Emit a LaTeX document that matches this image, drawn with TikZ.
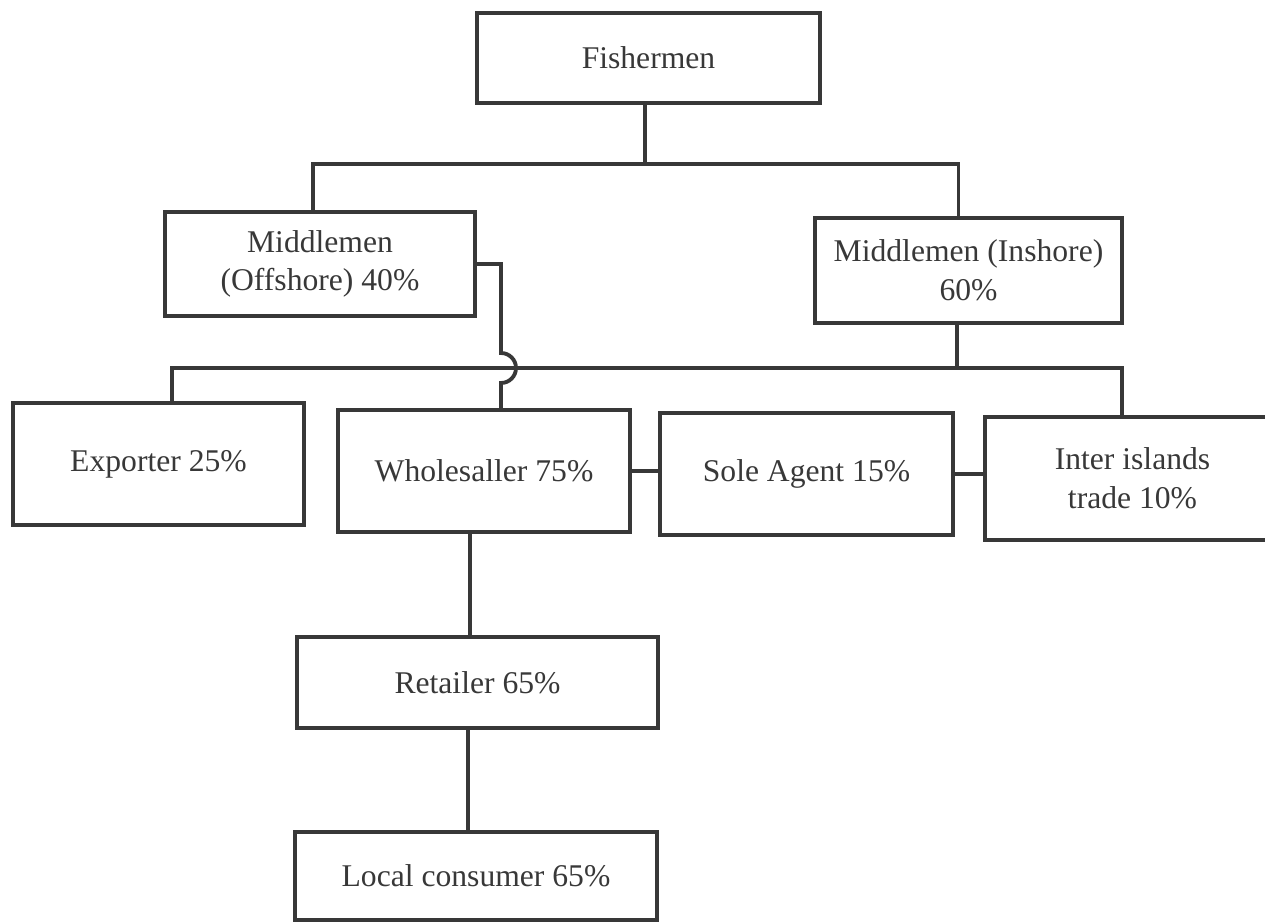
\documentclass[tikz,border=0pt]{standalone}
\usepackage{fontspec}
\setmainfont{Liberation Serif}
\usepackage{xcolor}
\usepackage{tikz}
\definecolor{ink}{HTML}{383838}

\begin{document}
\begin{tikzpicture}[x=0.02cm, y=-0.02cm]
	\tikzstyle{block} = [rectangle, draw=ink, text=ink, line width=2.2pt, inner sep=0pt,
	align=center, font=\fontsize{18}{22}\selectfont]
	\tikzstyle{line} = [draw=ink, line width=2.2pt]
	\useasboundingbox (0,0) rectangle (1265,923);
	% Place nodes
	\node [block, minimum width=6.86cm, minimum height=1.8cm] (fish) at (648.5,58) {Fishermen};
	\node [block, minimum width=6.2cm, minimum height=2.08cm] (off) at (320,264) {Middlemen\\(Offshore) 40\%};
	\node [block, minimum width=6.14cm, minimum height=2.1cm] (ins) at (968.5,270.5) {Middlemen (Inshore)\\60\%};
	\node [block, minimum width=5.82cm, minimum height=2.44cm] (exp) at (158.5,464) {Exporter 25\%};
	\node [block, minimum width=5.84cm, minimum height=2.44cm] (whole) at (484,471) {Wholesaller 75\%};
	\node [block, minimum width=5.86cm, minimum height=2.44cm] (sole) at (806.5,474) {Sole Agent 15\%};
	\node [block, minimum width=5.9cm, minimum height=2.46cm] (inter) at (1132.5,478.5) {Inter islands\\trade 10\%};
	\node [block, minimum width=7.22cm, minimum height=1.82cm] (ret) at (477.5,682.5) {Retailer 65\%};
	\node [block, minimum width=7.24cm, minimum height=1.76cm] (loc) at (476,876) {Local consumer 65\%};
	% Junctions
	\coordinate (b1) at (645,164);
	\coordinate (b2) at (957,368);
	\coordinate (hop) at (501,353);
	% Draw edges
	\path [line] (fish.south -| b1) -- (b1);
	\path [line] ([xshift=-0.14cm]off.north) |- (b1) -| ([xshift=-0.2cm]ins.north);
	\path [line] (ins.south -| b2) -- (b2);
	\path [line] ([xshift=0.27cm]exp.north) |- (b2) -| ([xshift=-0.21cm]inter.north);
	\path [line] (off.east) -| (hop) arc[start angle=90, end angle=-90, radius=0.3cm]
		-- ([xshift=0.34cm]whole.north);
	\path [line] (whole.east) -- (sole.west |- whole.east);
	\path [line] (sole.east) -- (inter.west |- sole.east);
	\path [line] ([xshift=-0.28cm]whole.south) -- ([xshift=-0.15cm]ret.north);
	\path [line] ([xshift=-0.19cm]ret.south) -- ([xshift=-0.16cm]loc.north);
\end{tikzpicture}
\end{document}
